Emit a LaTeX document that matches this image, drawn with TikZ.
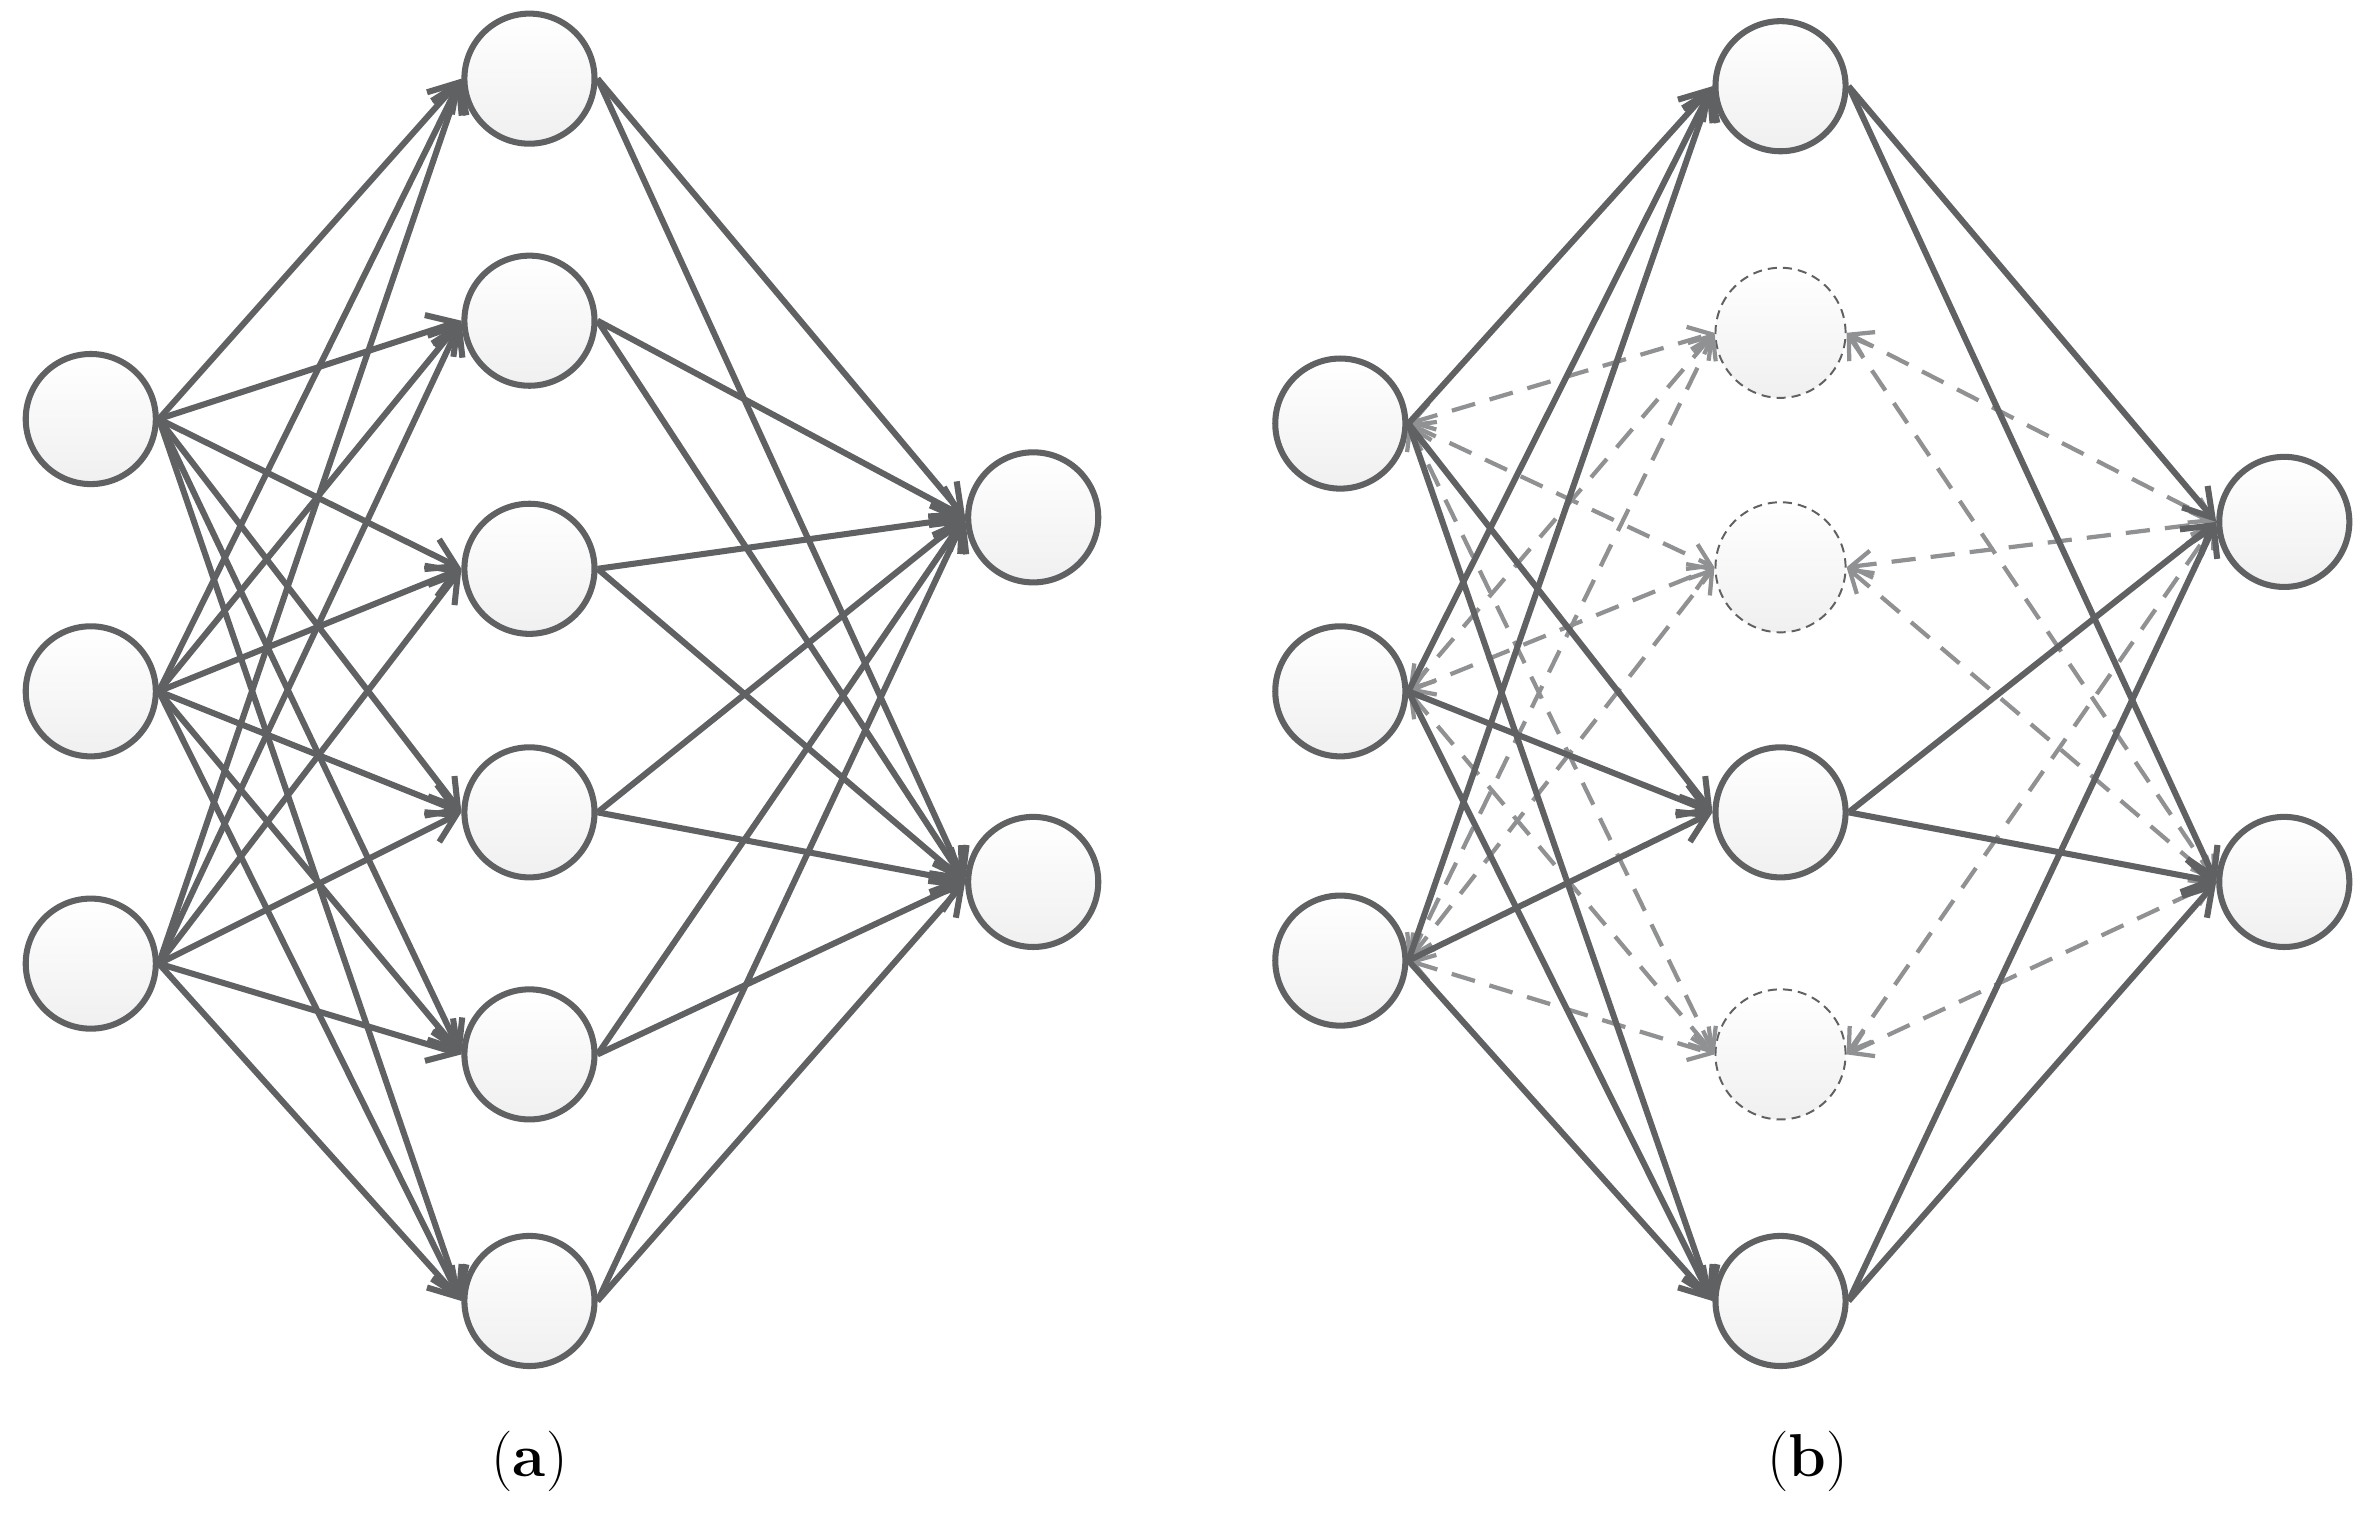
\documentclass[tikz,border=0pt]{standalone}
\usetikzlibrary{arrows.meta}
\definecolor{dg}{HTML}{606163}
\definecolor{lg}{HTML}{909193}
\begin{document}
\begin{tikzpicture}[x=1pt,y=-1pt,
  neuron/.style={circle,minimum size=86pt,inner sep=0pt,draw=dg,line width=4pt,top color=white,bottom color=gray!12},
  drop/.style={circle,minimum size=86pt,inner sep=0pt,draw=dg,line width=1.3pt,dash pattern=on 6pt off 4pt,top color=white,bottom color=gray!12},
  conn/.style={draw=dg,line width=4pt,-{Straight Barb[length=18pt,width=22pt,line width=4pt]}},
  dconn/.style={draw=lg,line width=2.8pt,dash pattern=on 16pt off 10pt,{Straight Barb[length=14pt,width=18pt,line width=2.8pt]}-{Straight Barb[length=14pt,width=18pt,line width=2.8pt]}},
  lab/.style={font=\fontsize{40}{48}\selectfont}]
\useasboundingbox (0,0) rectangle (1568,1003);
% panel a
\foreach \i/\y in {1/277,2/457,3/637} \node[neuron] (ai\i) at (60,\y) {};
\foreach \i/\y in {1/52,2/212,3/376,4/537,5/697,6/860} \node[neuron] (ah\i) at (350,\y) {};
\foreach \i/\y in {1/342,2/583} \node[neuron] (ao\i) at (683,\y) {};
\foreach \i in {1,2,3} \foreach \j in {1,...,6} \draw[conn] (ai\i.east) -- (ah\j.west);
\foreach \j in {1,...,6} \foreach \k in {1,2} \draw[conn] (ah\j.east) -- (ao\k.west);
% panel b
\foreach \i/\y in {1/280,2/457,3/635} \node[neuron] (bi\i) at (886,\y) {};
\foreach \i/\y in {1/57,4/537,6/860} \node[neuron] (bh\i) at (1177,\y) {};
\foreach \i/\y in {2/220,3/375,5/697} \node[drop] (bh\i) at (1177,\y) {};
\foreach \i/\y in {1/345,2/583} \node[neuron] (bo\i) at (1510,\y) {};
\foreach \i in {1,2,3} \foreach \j in {2,3,5} \draw[dconn] (bi\i.east) -- (bh\j.west);
\foreach \j in {2,3,5} \foreach \k in {1,2} \draw[dconn] (bh\j.east) -- (bo\k.west);
\foreach \i in {1,2,3} \foreach \j in {1,4,6} \draw[conn] (bi\i.east) -- (bh\j.west);
\foreach \j in {1,4,6} \foreach \k in {1,2} \draw[conn] (bh\j.east) -- (bo\k.west);
\node[lab] (la) at (350,966) {(\textbf{a})};
\node[lab] (lb) at (1195,966) {(\textbf{b})};
\end{tikzpicture}
\end{document}
